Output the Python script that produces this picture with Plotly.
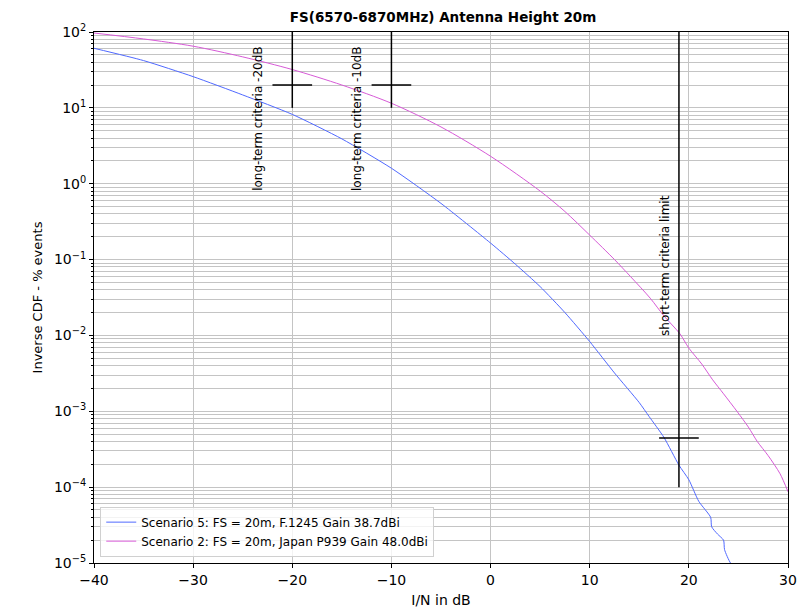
import plotly.graph_objects as go
import numpy as np

# Scenario 5 (blue)
s5_x = [-40, -35, -30, -25, -20, -15, -10, -5, 0, 2.5, 5, 7.5, 10, 12.5, 15, 16, 17.5, 19, 20, 21, 22.2, 22.3, 22.9, 23.5, 23.6, 24.2, 25]
s5_y = [61, 42, 25.8, 14.8, 8.2, 3.9, 1.6, 0.55, 0.165, 0.087, 0.044, 0.02, 0.0083, 0.0032, 0.0013, 8.5e-4, 4.5e-4, 1.95e-4, 1.25e-4, 6.5e-5, 4e-5, 3e-5, 2.4e-5, 2e-5, 1.5e-5, 1e-5, 8e-6]

# Scenario 2 (magenta)
s2_x = [-40, -35, -30, -25, -20, -15, -10, -5, 0, 5, 7.5, 10, 12.5, 14.1, 16.1, 17.5, 19.1, 20, 21.3, 22.4, 23.5, 24.9, 26, 26.9, 28, 29.2, 30]
s2_y = [97, 81, 65, 47, 32, 20, 11.5, 5.6, 2.3, 0.8, 0.43, 0.21, 0.1, 0.06, 0.031, 0.018, 0.0105, 0.0068, 0.0042, 0.0026, 0.0017, 0.00098, 0.00062, 0.0004, 0.00026, 0.00015, 0.000087]

s5_name = "Scenario 5: FS = 20m, F.1245 Gain 38.7dBi"
s2_name = "Scenario 2: FS = 20m, Japan P939 Gain 48.0dBi"

# Y tick labels
y_tickvals = [1e-5, 1e-4, 1e-3, 1e-2, 1e-1, 1e0, 1e1, 1e2]
y_ticktext = ["10<sup>\u22125</sup>", "10<sup>\u22124</sup>", "10<sup>\u22123</sup>", "10<sup>\u22122</sup>",
              "10<sup>\u22121</sup>", "10<sup>0</sup>", "10<sup>1</sup>", "10<sup>2</sup>"]

# Criteria markers
lt_x = [-20, -10]
lt_labels = ["long-term criteria -20dB", "long-term criteria -10dB"]
lt_y_point = 20
lt_y_range = [10, 100]
lt_half_width = 2

st_x = 19
st_label = "short-term criteria limit"
st_y_point = 4.45e-4
st_y_range = [1e-4, 100]
st_half_width = 2

fig = go.Figure()
fig.add_trace(go.Scatter(x=s5_x, y=s5_y, mode="lines", name=s5_name,
                         line=dict(color="rgb(80,105,255)", width=1, shape="spline", smoothing=0.6)))
fig.add_trace(go.Scatter(x=s2_x, y=s2_y, mode="lines", name=s2_name,
                         line=dict(color="rgb(215,90,215)", width=1, shape="spline", smoothing=0.8)))

for xv in lt_x:
    fig.add_trace(go.Scatter(x=[xv, xv], y=lt_y_range, mode="lines", showlegend=False,
                             line=dict(color="black", width=1.5), hoverinfo="skip"))
    fig.add_trace(go.Scatter(x=[xv - lt_half_width, xv + lt_half_width], y=[lt_y_point, lt_y_point],
                             mode="lines", showlegend=False,
                             line=dict(color="black", width=1.5), hoverinfo="skip"))
fig.add_trace(go.Scatter(x=[st_x, st_x], y=st_y_range, mode="lines", showlegend=False,
                         line=dict(color="black", width=1.5), hoverinfo="skip"))
fig.add_trace(go.Scatter(x=[st_x - st_half_width, st_x + st_half_width], y=[st_y_point, st_y_point],
                         mode="lines", showlegend=False,
                         line=dict(color="black", width=1.5), hoverinfo="skip"))

ann = []
for xv, lab in zip(lt_x, lt_labels):
    ann.append(dict(x=xv - 3.45, y=np.log10(0.76), text=lab, textangle=-90, showarrow=False,
                    xanchor="center", yanchor="bottom", font=dict(size=12, color="black")))
ann.append(dict(x=st_x - 1.35, y=np.log10(0.0093), text=st_label, textangle=-90, showarrow=False,
                xanchor="center", yanchor="bottom", font=dict(size=12, color="black")))

grid_c = "#c4c4c4"
fig.update_layout(
    width=799, height=610,
    margin=dict(l=94, r=11, t=32, b=47, autoexpand=False),
    paper_bgcolor="white", plot_bgcolor="white",
    font=dict(family="DejaVu Sans", size=12, color="black"),
    title=dict(text="<b>FS(6570-6870MHz) Antenna Height 20m</b>", x=0.5545, xanchor="center",
               y=0.972, yanchor="middle", font=dict(size=13.5)),
    annotations=ann,
    legend=dict(x=0.009, y=0.012, xanchor="left", yanchor="bottom",
                bgcolor="rgba(255,255,255,0.8)", bordercolor="#d0d0d0", borderwidth=1,
                font=dict(size=12), tracegroupgap=0),
    showlegend=True,
)
fig.update_xaxes(range=[-40, 30], dtick=10, tick0=0, showgrid=True, gridcolor=grid_c, gridwidth=1,
                 showline=True, linecolor="black", linewidth=1, mirror=True, automargin=False,
                 ticks="outside", ticklen=4, tickcolor="black", zeroline=False,
                 title=dict(text="I/N in dB", standoff=8, font=dict(size=14)), tickfont=dict(size=14))
fig.update_yaxes(type="log", range=[-5, 2], tickmode="array", tickvals=y_tickvals, ticktext=y_ticktext,
                 showgrid=True, gridcolor=grid_c, gridwidth=1, automargin=False,
                 showline=True, linecolor="black", linewidth=1, mirror=True,
                 ticks="outside", ticklen=4, tickcolor="black", zeroline=False,
                 minor=dict(dtick="D1", showgrid=True, gridcolor=grid_c, gridwidth=1,
                            ticks="outside", ticklen=2, tickcolor="black"),
                 title=dict(text="Inverse CDF - % events", standoff=8, font=dict(size=13)),
                 tickfont=dict(size=14))

fig.write_html("out.html")
